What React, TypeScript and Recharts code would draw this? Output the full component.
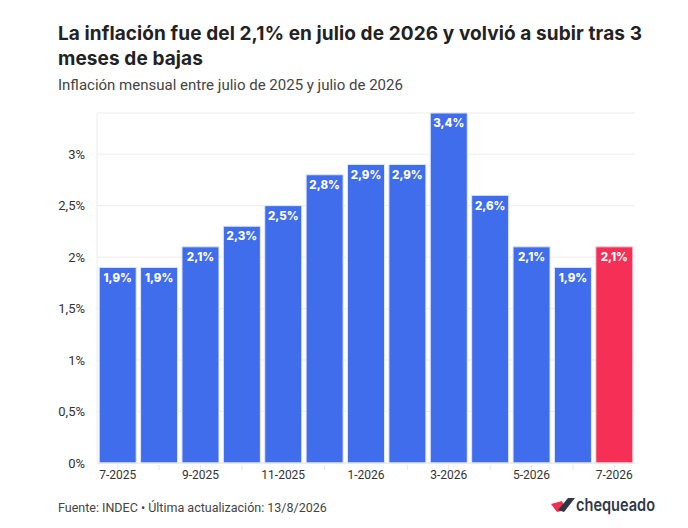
import React from 'react';
import { BarChart, Bar, XAxis, YAxis, CartesianGrid, Cell, LabelList } from 'recharts';

const months = ['7-2025', '8-2025', '9-2025', '10-2025', '11-2025', '12-2025', '1-2026', '2-2026', '3-2026', '4-2026', '5-2026', '6-2026', '7-2026'];
const inflation = [1.9, 1.9, 2.1, 2.3, 2.5, 2.8, 2.9, 2.9, 3.4, 2.6, 2.1, 1.9, 2.1];
const yTicks = [0, 0.5, 1, 1.5, 2, 2.5, 3];
const highlightMonth = '7-2026';

const BLUE = '#3F6DEB';
const RED = '#F52F55';
const FONT = 'Roboto, "Noto Sans", sans-serif';
const TITLE_FONT = 'Inter, Roboto, sans-serif';

const data = months.map((m, i) => ({ month: m, value: inflation[i] }));

const fmt = (v: number) => String(v).replace('.', ',') + '%';

const MonthTick = (props: any) => {
  const { x, y, payload, index } = props;
  return (
    <g>
      <line x1={x} x2={x} y1={y - 6} y2={y - 1} stroke="#e6e6e6" />
      {index % 2 === 0 && (
        <text x={x} y={y + 8} textAnchor="middle" fontSize={12} fill="#333" fontFamily={FONT}>
          {payload.value}
        </text>
      )}
    </g>
  );
};

function Logo() {
  return (
    <svg width={120} height={22} style={{ position: 'absolute', left: 549, top: 495 }}>
      <polygon points="2,9 13,6 17,15 8,17" fill="#F0304F" />
      <polygon points="9,15 19,3 26,3 15,17" fill="#2E3848" />
      <text x={27} y={15.5} fontSize={17} fontWeight={600} fill="#2E3848" fontFamily={TITLE_FONT} textLength={79} lengthAdjust="spacingAndGlyphs">
        chequeado
      </text>
    </svg>
  );
}

export default function App() {
  return (
    <div style={{ position: 'absolute', left: 0, top: 0, width: 688, height: 528, background: '#fff', fontFamily: FONT }}>
      <div style={{ position: 'absolute', left: 58, top: 22, width: 600, fontSize: 19, fontWeight: 700, lineHeight: '24.5px', color: '#222', fontFamily: TITLE_FONT, letterSpacing: 0.1 }}>
        La inflación fue del 2,1% en julio de 2026 y volvió a subir tras 3 meses de bajas
      </div>
      <div style={{ position: 'absolute', left: 58, top: 76, fontSize: 15, color: '#444' }}>
        Inflación mensual entre julio de 2025 y julio de 2026
      </div>
      <div style={{ position: 'absolute', left: 0, top: 0 }}>
        <BarChart width={688} height={528} data={data} margin={{ top: 113, right: 53, bottom: 35, left: 0 }} barCategoryGap={2.2}>
          <CartesianGrid horizontal vertical={false} stroke="#ececec" />
          <XAxis dataKey="month" interval={0} height={30} tickLine={false} axisLine={{ stroke: '#e6e6e6' }} tick={<MonthTick />} />
          <YAxis
            width={97}
            domain={[0, 3.4]}
            ticks={yTicks}
            tickFormatter={fmt}
            tickLine={false}
            axisLine={{ stroke: '#ececec' }}
            tick={{ fontSize: 13, fill: '#333', fontFamily: FONT }}
            tickMargin={6}
          />
          <Bar dataKey="value" isAnimationActive={false} stroke="#dfe6fb" strokeWidth={1}>
            {data.map((d) => (
              <Cell key={d.month} fill={d.month === highlightMonth ? RED : BLUE} stroke={d.month === highlightMonth ? '#fbd5dd' : '#dfe6fb'} />
            ))}
            <LabelList dataKey="value" position="insideTop" offset={6} formatter={fmt} style={{ fill: '#fff', fontSize: 11.5, fontWeight: 800, fontFamily: TITLE_FONT }} />
          </Bar>
        </BarChart>
      </div>
      <div style={{ position: 'absolute', left: 58, top: 500, fontSize: 12.5, color: '#444' }}>
        Fuente: INDEC • Última actualización: 13/8/2026
      </div>
      <Logo />
    </div>
  );
}
